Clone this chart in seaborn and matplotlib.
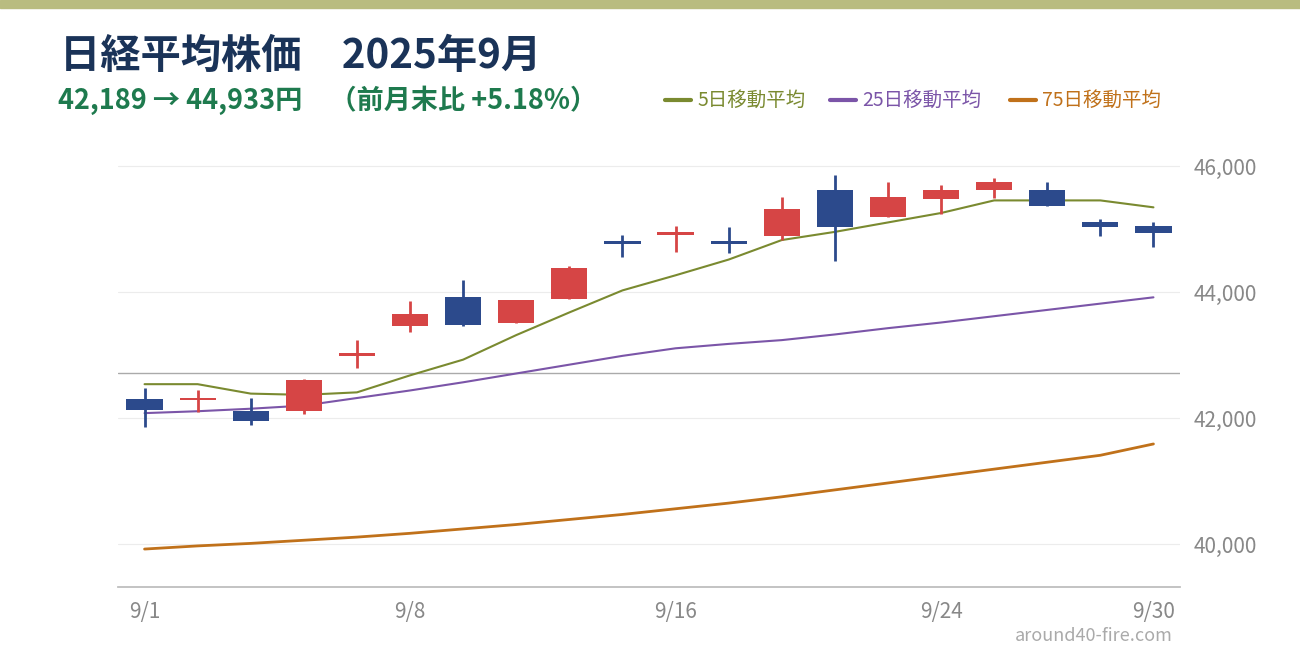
import matplotlib
matplotlib.use("Agg")
import matplotlib.pyplot as plt
import seaborn as sns
import numpy as np
import pandas as pd

dates = ["9/1","9/2","9/3","9/4","9/5","9/8","9/9","9/10","9/11","9/12",
         "9/16","9/17","9/18","9/19","9/22","9/24","9/25","9/26","9/29","9/30"]
opens  = [42300,42300,42110,42110,43000,43460,43920,43520,43890,44800,
          44930,44800,44900,45630,45200,45490,45620,45630,45110,45060]
closes = [42125,42310,41950,42600,43015,43650,43475,43870,44380,44790,
          44940,44790,45320,45030,45510,45630,45760,45370,45045,44935]
highs  = [42476,42440,42320,42630,43240,43860,44190,43870,44410,44910,
          45060,45040,45520,45860,45760,45700,45820,45760,45160,45120]
lows   = [41857,42100,41890,42060,42800,43365,43460,43520,43890,44560,
          44640,44620,44830,44490,45200,45240,45500,45370,44890,44720]
ma5  = [42540,42540,42390,42370,42410,42680,42930,43320,43680,44030,
        44270,44520,44830,44960,45110,45260,45460,45460,45460,45350]
ma25 = [42080,42110,42150,42200,42320,42440,42570,42710,42850,42990,
        43110,43180,43240,43330,43430,43520,43620,43720,43820,43920]
ma75 = [39920,39970,40010,40060,40110,40170,40240,40310,40390,40470,
        40560,40650,40750,40860,40970,41080,41190,41300,41410,41590]
prev_close = 42718
yticks = [40000, 42000, 44000, 46000]

sns.set_theme(style="white")
plt.rcParams['font.family'] = ['Noto Sans CJK JP', 'DejaVu Sans']

fig = plt.figure(figsize=(13, 6.6), dpi=100)
ax = fig.add_axes([118/1300, 1-587/660, 1062/1300, 447/660])

x = np.arange(len(dates))
RED, BLUE = "#d64545", "#2c4a8c"
df = pd.DataFrame({"x": x, "ma5": ma5, "ma25": ma25, "ma75": ma75})
ax.axhline(prev_close, color="#aaaaaa", lw=1, zorder=1)
for y in yticks:
    ax.axhline(y, color="#ececec", lw=0.8, zorder=0)
sns.lineplot(data=df, x="x", y="ma75", ax=ax, color="#c0711a", lw=2, zorder=2)
sns.lineplot(data=df, x="x", y="ma25", ax=ax, color="#7b55a8", lw=1.5, zorder=2)
sns.lineplot(data=df, x="x", y="ma5", ax=ax, color="#7a8a30", lw=1.5, zorder=2)

for i in range(len(dates)):
    c = RED if closes[i] >= opens[i] else BLUE
    ax.vlines(i, lows[i], highs[i], color=c, lw=2, zorder=3)
    lo, hi = min(opens[i], closes[i]), max(opens[i], closes[i])
    h = max(hi - lo, 40)
    if hi - lo < 40:
        lo = (lo + hi) / 2 - 20
    ax.bar(i, h, bottom=lo, width=0.68, color=c, linewidth=0, zorder=4)

ax.set_xlim(-0.5, 19.5)
ax.set_ylim(39317, 46420)
ax.set_xticks([0, 5, 10, 15, 19])
ax.set_xticklabels(["9/1", "9/8", "9/16", "9/24", "9/30"])
ax.set_yticks(yticks)
ax.set_yticklabels([f"{v:,}" for v in yticks])
ax.yaxis.tick_right()
ax.tick_params(axis="both", colors="#888888", labelsize=15, length=0, pad=10)
ax.set_xlabel(""); ax.set_ylabel("")
for s in ["top", "left", "right"]:
    ax.spines[s].set_visible(False)
ax.spines["bottom"].set_color("#bbbbbb")

fig.patches.append(plt.Rectangle((0, 1-8/660), 1, 8/660, transform=fig.transFigure, color="#b9bc80"))
fig.text(60/1300, 1-56/660, "日経平均株価　2025年9月", fontsize=29, fontweight="bold", color="#1a3358", va="center")
fig.text(58/1300, 1-100/660, "42,189 → 44,933円　（前月末比 +5.18%）", fontsize=19.5, fontweight="bold", color="#1e7a4e", va="center")
legend = [("5日移動平均", "#7a8a30", 665), ("25日移動平均", "#7b55a8", 830), ("75日移動平均", "#c0711a", 1010)]
for lab, col, px in legend:
    fig.add_artist(plt.Line2D([px/1300, (px+26)/1300], [1-100/660]*2, color=col, lw=3, transform=fig.transFigure))
    fig.text((px+32)/1300, 1-100/660, lab, fontsize=14, color=col, va="center")
fig.text(1173/1300, 1-636/660, "around40-fire.com", fontsize=13, color="#aaaaaa", ha="right", va="center")
fig.savefig("out.png", dpi=100)
